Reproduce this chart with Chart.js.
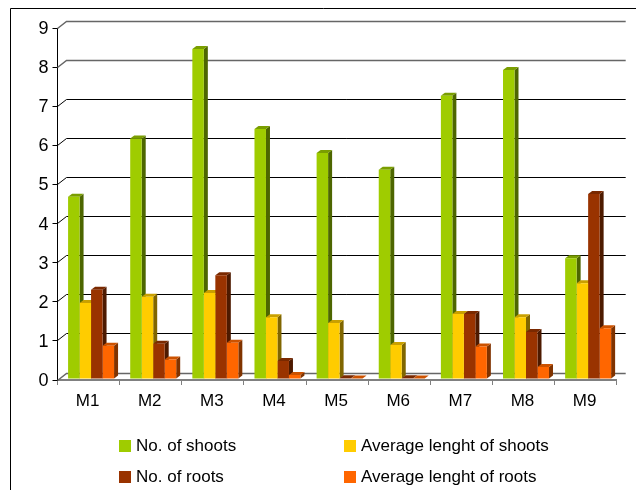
<!DOCTYPE html>
<html>
<head>
<meta charset="utf-8">
<style>
  html, body { margin: 0; padding: 0; background: #fff; }
  #wrap { position: relative; width: 636px; height: 490px; }
</style>
<script src="https://cdn.jsdelivr.net/npm/chart.js@4"></script>
</head>
<body>
<div id="wrap"><canvas id="chart" width="636" height="490"></canvas></div>
<script>
const categories = ['M1', 'M2', 'M3', 'M4', 'M5', 'M6', 'M7', 'M8', 'M9'];
const seriesNames = ['No. of shoots', 'Average lenght of shoots', 'No. of roots', 'Average lenght of roots'];
const shoots = [4.66, 6.15, 8.44, 6.39, 5.78, 5.35, 7.24, 7.9, 3.09];
const shootLength = [1.94, 2.1, 2.2, 1.58, 1.43, 0.87, 1.66, 1.58, 2.45];
const roots = [2.28, 0.9, 2.65, 0.46, 0.02, 0.02, 1.66, 1.2, 4.73];
const rootLength = [0.85, 0.5, 0.93, 0.1, 0.01, 0.01, 0.83, 0.31, 1.3];
const yTicks = [0, 1, 2, 3, 4, 5, 6, 7, 8, 9];

const fronts = ['#9fcc00', '#ffcc00', '#993300', '#ff6600'];
const tops = ['#7a9e00', '#c9a000', '#7a2900', '#cc5200'];
const sides = ['#4d6600', '#806600', '#4d1a00', '#803300'];

const depthX = 9, depthY = 7;      // back wall offset
const barDepthX = 4, barDepthY = 3; // bar depth
const barShiftX = 2.5, barShiftY = -1;

const wall = {
  id: 'wall',
  beforeDatasetsDraw(chart) {
    const { ctx, scales: { x, y } } = chart;
    ctx.save();
    // outer frame, only top and left are in the picture
    ctx.lineWidth = 1;
    ctx.strokeStyle = '#000';
    ctx.beginPath();
    ctx.moveTo(10.5, 490);
    ctx.lineTo(10.5, 8.5);
    ctx.lineTo(636, 8.5);
    ctx.stroke();
    // back wall grid and the slanted lines to the axis
    yTicks.forEach(v => {
      const py = Math.floor(y.getPixelForValue(v)) + 0.5;
      const soft = v === 0 || v >= 8;
      ctx.strokeStyle = soft ? '#666' : '#000';
      ctx.lineWidth = soft ? 1.5 : 1;
      ctx.beginPath();
      ctx.moveTo(x.left, py);
      ctx.lineTo(x.left + depthX, py - depthY);
      ctx.lineTo(x.right + depthX, py - depthY);
      ctx.stroke();
    });
    // sides and tops go first, Chart.js paints the fronts over them afterwards
    ctx.translate(barShiftX, barShiftY);
    chart.data.datasets.forEach((ds, i) => {
      chart.getDatasetMeta(i).data.forEach(bar => {
        const l = bar.x - bar.width / 2, r = bar.x + bar.width / 2;
        const t = bar.y, b = bar.base;
        ctx.fillStyle = sides[i];
        ctx.beginPath();
        ctx.moveTo(r, t);
        ctx.lineTo(r + barDepthX, t - barDepthY);
        ctx.lineTo(r + barDepthX, b - barDepthY);
        ctx.lineTo(r, b);
        ctx.fill();
        ctx.fillStyle = tops[i];
        ctx.beginPath();
        ctx.moveTo(l, t);
        ctx.lineTo(l + barDepthX, t - barDepthY);
        ctx.lineTo(r + barDepthX, t - barDepthY);
        ctx.lineTo(r, t);
        ctx.fill();
      });
    });
    ctx.restore();
  },
  beforeDatasetDraw(chart) {
    chart.ctx.save();
    chart.ctx.translate(barShiftX, barShiftY);
  },
  afterDatasetDraw(chart) {
    chart.ctx.restore();
  },
  afterDraw(chart) {
    const ctx = chart.ctx;
    const colX = [119, 344], rowY = [446, 477];
    ctx.save();
    ctx.font = '17px "Liberation Sans"';
    ctx.textBaseline = 'middle';
    seriesNames.forEach((name, i) => {
      const cx = colX[i % 2], cy = rowY[Math.floor(i / 2)];
      ctx.fillStyle = fronts[i];
      ctx.fillRect(cx, cy - 6, 12, 12);
      ctx.fillStyle = '#000';
      ctx.fillText(name, cx + 17, cy);
    });
    ctx.restore();
  }
};

Chart.defaults.font.family = '"Liberation Sans"';
Chart.defaults.color = '#000';

new Chart(document.getElementById('chart'), {
  type: 'bar',
  data: {
    labels: categories,
    datasets: [shoots, shootLength, roots, rootLength].map((d, i) => ({
      label: seriesNames[i],
      data: d,
      backgroundColor: fronts[i],
      borderWidth: 0
    }))
  },
  options: {
    responsive: false,
    animation: false,
    categoryPercentage: 0.74,
    barPercentage: 1,
    layout: { padding: { top: 28, right: 19.3, bottom: 0, left: 0 } },
    plugins: { legend: { display: false }, tooltip: { enabled: false } },
    scales: {
      x: {
        afterFit(scale) { scale.height = 110; },
        grid: { display: true, drawOnChartArea: false, color: '#808080', tickLength: 5 },
        border: { display: true, color: '#808080', width: 2 },
        ticks: { font: { size: 17 }, padding: 6, maxRotation: 0, labelOffset: -1 }
      },
      y: {
        min: 0,
        max: 9,
        afterFit(scale) { scale.width = 57.5; },
        grid: { display: true, drawOnChartArea: false, color: '#000', tickLength: 5 },
        border: { display: true, color: '#000' },
        ticks: { stepSize: 1, font: { size: 18 }, padding: 4, labelOffset: 1 }
      }
    }
  },
  plugins: [wall]
});
</script>
</body>
</html>
